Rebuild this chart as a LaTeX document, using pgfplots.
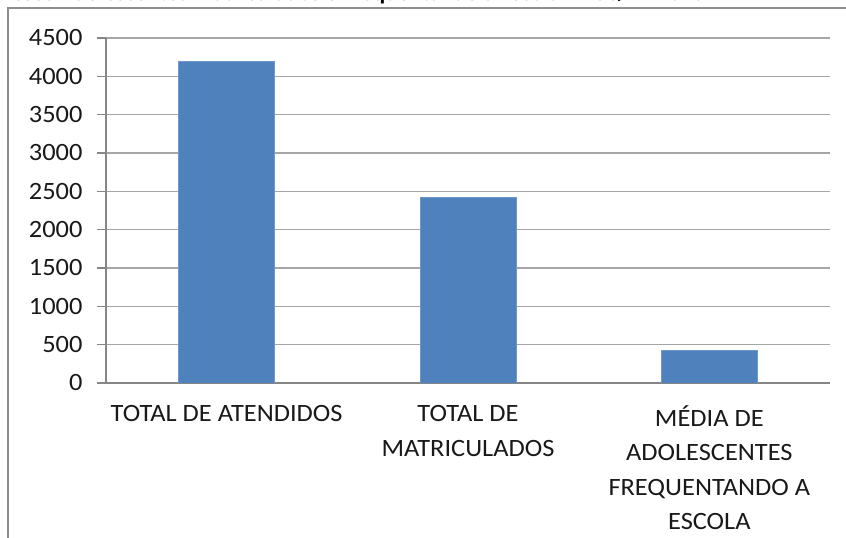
\documentclass[border=0pt]{standalone}
\usepackage{pgfplots}
\pgfplotsset{compat=1.18}
\usepackage{fontspec}
\setmainfont{Carlito}[FakeStretch=1.06]
\definecolor{barblue}{HTML}{4F81BD}
\definecolor{baredge}{HTML}{6E97CC}
\definecolor{axgray}{HTML}{868686}
\definecolor{gridgray}{HTML}{A6A6A6}
\definecolor{framegray}{HTML}{8E8E8E}
\begin{document}
\begin{tikzpicture}[x=1bp,y=1bp]
\useasboundingbox (-106,-155) rectangle (740,383);
\draw[framegray, line width=2bp] (-98,-170) -- (-98,375) -- (760,375);
\node[anchor=base west, font=\bfseries\fontsize{22}{26}\selectfont, inner sep=0pt] at (-92,382.5)
  {ssos Adolescentes Matriculados e Frequentando a Escola -- PSC/LA 2010};
\begin{axis}[
  at={(0,0)}, anchor=south west,
  scale only axis, width=724bp, height=345bp,
  xmin=-0.5, xmax=2.5, ymin=0, ymax=4500,
  enlargelimits=false,
  axis x line*=bottom, axis y line*=left,
  axis line style={axgray, line width=1.2bp, -},
  ytick distance=500,
  ymajorgrids, grid style={gridgray, line width=1.3bp},
  tick align=outside,
  major tick length=9bp, minor tick length=9bp,
  tick style={axgray, line width=1.2bp},
  xtick={0,1,2},
  xtick style={draw=none},
  minor xtick={-0.5,0.5,1.5,2.5},
  xticklabels={TOTAL DE ATENDIDOS, {TOTAL DE\\MATRICULADOS}, {MÉDIA DE\\ADOLESCENTES\\FREQUENTANDO A\\ESCOLA}},
  xticklabel style={align=center, anchor=north, yshift=-10bp, font=\fontsize{25}{34.5}\selectfont, text=black!90},
  yticklabel style={xshift=-11bp, font=\fontsize{25}{29}\selectfont, text=black!90},
  /pgf/number format/assume math mode=true,
  /pgf/number format/1000 sep={},
  ]
  \addplot[ybar, bar width=96bp, fill=barblue, draw=baredge, line width=0.8bp]
    coordinates {(0,4190) (1,2420) (2,430)};
\end{axis}
\end{tikzpicture}
\end{document}
